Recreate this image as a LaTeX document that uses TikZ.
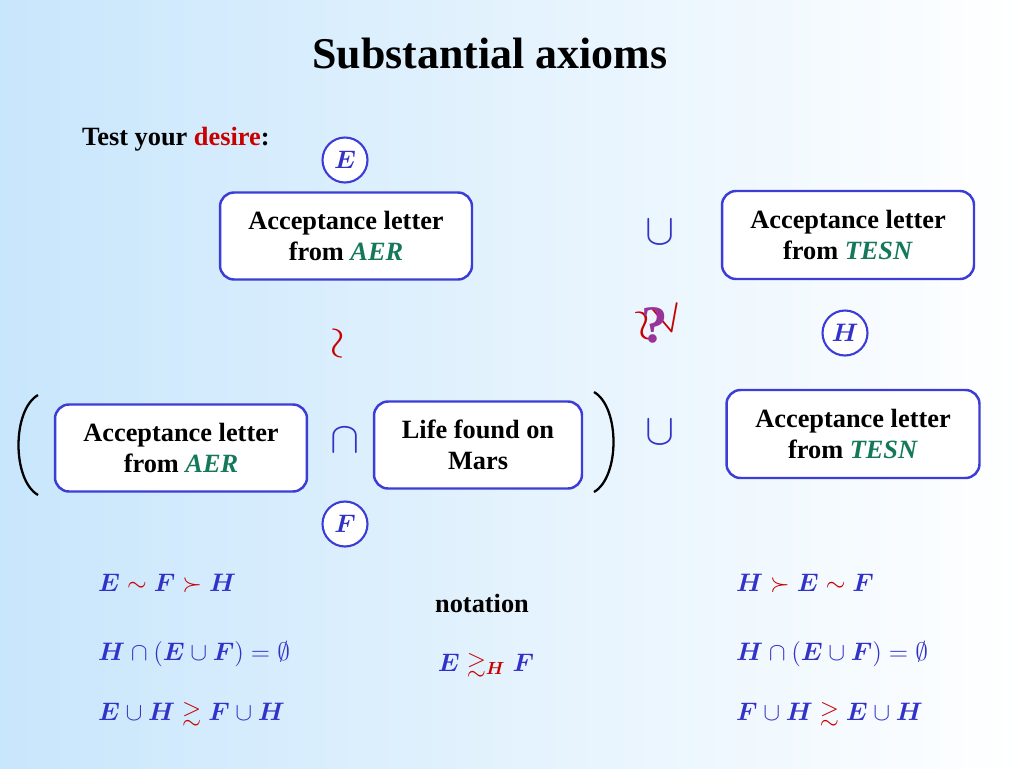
\documentclass[tikz,border=0pt]{standalone}
\usepackage{amsmath}
\usepackage{amssymb}
\usepackage{bm}
\usepackage{fontspec}
\setmainfont{Liberation Serif}
\usetikzlibrary{positioning}
\definecolor{boxblue}{RGB}{60,60,215}
\definecolor{mathblue}{RGB}{50,50,200}
\definecolor{aergreen}{RGB}{20,120,90}
\definecolor{softred}{RGB}{200,0,0}
\definecolor{skyleft}{RGB}{200,230,252}
\tikzstyle{letter} = [rectangle, rounded corners=8pt, draw=boxblue, line width=1.4pt, fill=white, align=center, text centered, font=\fontsize{15}{18}\selectfont\bfseries, inner sep=0pt]
\tikzstyle{event} = [circle, draw=boxblue, line width=1.2pt, fill=white, minimum size=0.9cm, inner sep=0pt, text=mathblue, font=\fontsize{15}{15}\selectfont]
\tikzstyle{setop} = [font=\fontsize{34}{34}\selectfont, text=mathblue]
\tikzstyle{formula} = [anchor=west, font=\fontsize{14}{16}\selectfont, text=mathblue]
\newcommand{\bx}[1]{\ensuremath{\bm{#1}}}
\newcommand{\rel}[1]{\mathrel{\textcolor{softred}{#1}}}

\begin{document}
\begin{tikzpicture}[x=0.02cm, y=-0.02cm]

    \shade[left color=skyleft, right color=white] (0,0) rectangle (1024,768);
    \useasboundingbox (0,0) rectangle (1024,768);

    \node(title)[font=\fontsize{25}{30}\selectfont\bfseries] at (490,54) {Substantial axioms};
    \node(test)[anchor=west, font=\fontsize{15}{17}\selectfont\bfseries] at (76,139) {Test your \textcolor{softred}{desire}:};

    % top row
    \node(AER1)[letter, minimum width=5.04cm, minimum height=1.74cm] at (346,236) {Acceptance letter\\from \textcolor{aergreen}{\textit{AER}}};
    \node(TESN1)[letter, minimum width=5.04cm, minimum height=1.76cm] at (848,235) {Acceptance letter\\from \textcolor{aergreen}{\textit{TESN}}};
    \node(cup1)[setop] at (660,232) {$\cup$};
    \node(E)[event] at (345,160) {\bx{E}};

    % middle
    \node(sim)[text=softred, font=\fontsize{24}{24}\selectfont, rotate=90] at (340,343) {$\sim$};
    \node(succ)[text=softred, font=\fontsize{26}{26}\selectfont, rotate=-75] at (660,322) {$\gtrsim$};
    \node(quest)[text=violet!80, font=\fontsize{30}{30}\selectfont\bfseries] at (655,325) {?};
    \node(H)[event] at (845,333) {\bx{H}};

    % bottom row
    \node(AER2)[letter, minimum width=5.04cm, minimum height=1.74cm] at (181,448) {Acceptance letter\\from \textcolor{aergreen}{\textit{AER}}};
    \node(cap)[setop] at (345,440) {$\cap$};
    \node(Mars)[letter, minimum width=4.16cm, minimum height=1.74cm] at (478,445) {Life found on\\Mars};
    \node(cup2)[setop] at (660,432) {$\cup$};
    \node(TESN2)[letter, minimum width=5.06cm, minimum height=1.76cm] at (853,434) {Acceptance letter\\from \textcolor{aergreen}{\textit{TESN}}};
    \node(F)[event] at (345,524) {\bx{F}};
    \coordinate(lp) at (38,445);
    \coordinate(rp) at (594,442);
    \draw[line width=1.3pt] ([shift={(0,-50)}]lp) .. controls (12,410) and (12,480) .. ([shift={(0,50)}]lp);
    \draw[line width=1.3pt] ([shift={(0,-50)}]rp) .. controls (620,407) and (620,477) .. ([shift={(0,50)}]rp);

    % formulas
    \node(f1)[formula] at (92,583) {$\bx{E}\rel{\sim}\bx{F}\rel{\succ}\bx{H}$};
    \node(f2)[formula] at (92,654) {$\bx{H}\cap(\bx{E}\cup\bx{F})=\emptyset$};
    \node(f3)[formula] at (92,714) {$\bx{E}\cup\bx{H}\rel{\gtrsim}\bx{F}\cup\bx{H}$};
    \node(nota)[font=\fontsize{15}{17}\selectfont\bfseries] at (482,603) {notation};
    \node(f4)[formula, anchor=center] at (486,665) {$\bx{E}\rel{\gtrsim_{\bx{H}}}\bx{F}$};
    \node(g1)[formula] at (730,583) {$\bx{H}\rel{\succ}\bx{E}\rel{\sim}\bx{F}$};
    \node(g2)[formula] at (730,654) {$\bx{H}\cap(\bx{E}\cup\bx{F})=\emptyset$};
    \node(g3)[formula] at (730,714) {$\bx{F}\cup\bx{H}\rel{\gtrsim}\bx{E}\cup\bx{H}$};

\end{tikzpicture}
\end{document}
